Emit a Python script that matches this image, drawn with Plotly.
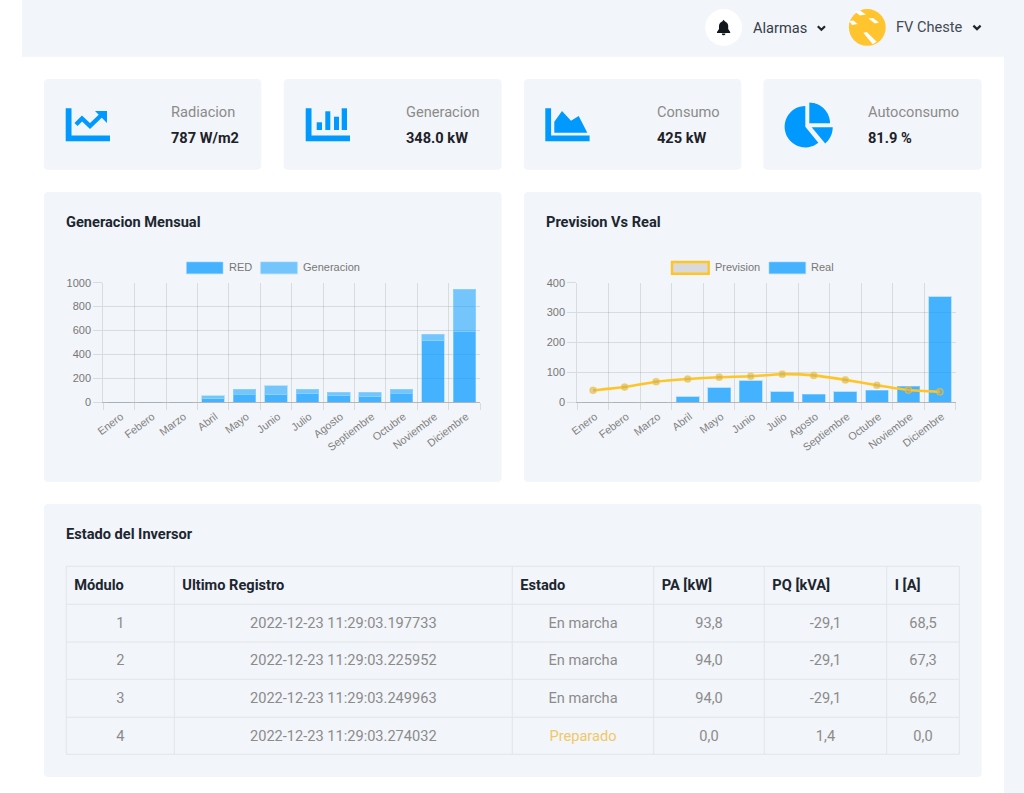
import numpy as np
import plotly.graph_objects as go

W, H = 1024, 793
BG = "#f2f5f9"
BLUE = "#0099ff"

meses = ["Enero", "Febero", "Marzo", "Abril", "Mayo", "Junio", "Julio", "Agosto",
         "Septiembre", "Octubre", "Noviembre", "Diciembre"]

# Generacion Mensual
red_vals = [0, 0, 0, 34, 63, 67, 76, 59, 51, 71, 518, 591]
gen_vals = [0, 0, 0, 19, 48, 72, 35, 27, 35, 40, 53, 353]

# Prevision Vs Real
prevision_vals = [40, 51, 69, 78, 84, 87, 94, 90, 75, 57, 41, 35]
real_vals = [0, 0, 0, 19, 48, 72, 35, 27, 35, 40, 53, 353]

# Tabla
col_modulo = ["1", "2", "3", "4"]
col_registro = ["2022-12-23 11:29:03.197733", "2022-12-23 11:29:03.225952",
                "2022-12-23 11:29:03.249963", "2022-12-23 11:29:03.274032"]
col_estado = ["En marcha", "En marcha", "En marcha", "Preparado"]
col_pa = ["93,8", "94,0", "94,0", "0,0"]
col_pq = ["-29,1", "-29,1", "-29,1", "1,4"]
col_i = ["68,5", "67,3", "66,2", "0,0"]
cabecera = ["Módulo", "Ultimo Registro", "Estado", "PA [kW]", "PQ [kVA]", "I [A]"]


def px(x):
    return x / W


def py(y):
    return 1 - y / H


def poly(points, close=True):
    s = "M " + " L ".join(f"{px(x):.5f} {py(y):.5f}" for x, y in points)
    return s + (" Z" if close else "")


def round_rect(x0, y0, x1, y1, r=4):
    pts = []
    for cx, cy, a0 in [(x1 - r, y0 + r, -90), (x1 - r, y1 - r, 0), (x0 + r, y1 - r, 90), (x0 + r, y0 + r, 180)]:
        for a in np.radians(np.linspace(a0, a0 + 90, 6)):
            pts.append((cx + r * np.cos(a), cy + r * np.sin(a)))
    return poly(pts)


def arc(cx, cy, r, a0, a1, n=30):
    return [(cx + r * np.cos(a), cy + r * np.sin(a)) for a in np.radians(np.linspace(a0, a1, n))]


shapes = []


def add_fill(path, color=BLUE):
    shapes.append(dict(type="path", xref="paper", yref="paper", path=path, fillcolor=color,
                       line=dict(width=0), layer="below"))


def add_stroke(points, color, width):
    shapes.append(dict(type="path", xref="paper", yref="paper", path=poly(points, close=False),
                       line=dict(color=color, width=width), layer="below"))


def add_circle(cx, cy, r, color):
    shapes.append(dict(type="circle", xref="paper", yref="paper", x0=px(cx - r), x1=px(cx + r),
                       y0=py(cy + r), y1=py(cy - r), fillcolor=color, line=dict(width=0), layer="below"))


annotations = []
TXT = 14.6


def add_text(x, y, text, size=TXT, color="#8b8b8b", anchor="left", bold=False):
    annotations.append(dict(x=px(x), y=py(y), xref="paper", yref="paper", showarrow=False,
                            text=f"<b>{text}</b>" if bold else text, xanchor=anchor, yanchor="middle",
                            borderpad=0, font=dict(family="Roboto", size=size, color=color)))


# fondo: barra superior y franja derecha
add_fill(poly([(22, 0), (W, 0), (W, 56.7), (22, 56.7)]), BG)
add_fill(poly([(1004, 56), (W, 56), (W, H), (1004, H)]), BG)

# tarjetas
for x0, x1 in [(44, 261.3), (283.7, 501.7), (524, 741.3), (763.3, 981.7)]:
    add_fill(round_rect(x0, 79, x1, 169.7), BG)
add_fill(round_rect(44, 192, 501.7, 482), BG)
add_fill(round_rect(524, 192, 981.7, 482), BG)
add_fill(round_rect(44, 504, 981.7, 777), BG)


def l_axis(x):
    add_fill(poly([(x, 108.3), (x + 5.8, 108.3), (x + 5.8, 135.6), (x + 44.3, 135.6), (x + 44.3, 141.3), (x, 141.3)]))


# iconos
l_axis(65.7)
add_stroke([(76, 124.5), (82, 118.5), (90, 126), (102, 114.5)], BLUE, 4.4)
add_fill(poly([(95, 111), (107, 111), (107, 123)]))
l_axis(305.7)
for x0, x1, y0 in [(316.7, 322, 122.3), (325.3, 330.3, 111.3), (334, 339, 116.7), (341.7, 347, 108.3)]:
    add_fill(poly([(x0, y0), (x1, y0), (x1, 130), (x0, 130)]))
l_axis(545.3)
add_fill(poly([(554.3, 132.7), (554.3, 121.7), (562, 111), (571, 120.7), (578.7, 116), (587.3, 132.7)]))
add_fill(poly(arc(805.3, 126.7, 20.7, -90, -309) + [(805.3, 126.7)]))
add_fill(poly([(809.3, 123.3)] + arc(809.3, 123.3, 20.7, -90, 0)))
add_fill(poly([(811.7, 127.3)] + arc(811.7, 127.3, 21, 0, 50)))

# cabecera
add_circle(723.7, 27.5, 18.5, "#ffffff")
add_fill(poly([(723.6, 19.8), (725, 21.6)] + arc(723.6, 26, 4.6, -60, 0, 8) +
              [(728.2, 29), (730.2, 32), (730.2, 33.1), (717, 33.1), (717, 32), (719, 29)] +
              arc(723.6, 26, 4.6, 180, 240, 8) + [(722.2, 21.6)]), "#11151c")
add_fill(poly(arc(723.6, 33.6, 1.8, 0, 180, 8)), "#11151c")
add_stroke([(817.8, 26.3), (821.4, 29.8), (825, 26.3)], "#1f2630", 2.2)
add_stroke([(973.4, 25.6), (977, 29.1), (980.6, 25.6)], "#1f2630", 2.2)
add_text(751.8, 28, "Alarmas", color="#343c47")
add_text(894.7, 27, "FV Cheste", color="#434b55")

add_circle(867.3, 27.4, 18.4, "#ffc42e")
for streak in [[(863.3, 32.7), (866.7, 32), (876.7, 41.7), (872.7, 44.3)],
               [(855, 11.7), (860, 10.5), (866, 14.5), (860, 15.5)],
               [(868.5, 18.5), (873, 18), (879, 22.5), (875, 23.5)],
               [(849.5, 21), (853.5, 20.5), (857.5, 24), (852, 25)]]:
    add_fill(poly(streak), "#ffffff")

# textos de las tarjetas
for x, label, value in [(170, "Radiacion", "787 W/m2"), (404.5, "Generacion", "348.0 kW"),
                        (655.5, "Consumo", "425 kW"), (866.5, "Autoconsumo", "81.9 %")]:
    add_text(x, 111.7, label)
    add_text(x, 137.8, value, color="#1d2229", bold=True)
add_text(64.7, 222, "Generacion Mensual", color="#1c2630", bold=True)
add_text(544.7, 222, "Prevision Vs Real", color="#1c2630", bold=True)
add_text(64.7, 534, "Estado del Inversor", color="#1c2630", bold=True)


def legend_box(x0, x1, color, line_color, lw=1):
    shapes.append(dict(type="rect", xref="paper", yref="paper", x0=px(x0), x1=px(x1), y0=py(273.8), y1=py(262),
                       fillcolor=color, line=dict(color=line_color, width=lw), layer="below"))


def legend_text(x, text):
    annotations.append(dict(x=px(x), y=py(267), xref="paper", yref="paper", showarrow=False, text=text,
                            xanchor="left", yanchor="middle", borderpad=0,
                            font=dict(family="Liberation Sans", size=11, color="#777777")))


RED_COLOR = "rgba(0,153,255,0.72)"
GEN_COLOR = "rgba(0,153,255,0.52)"
EDGE = "rgba(150,215,255,0.6)"
legend_box(186.5, 223, RED_COLOR, EDGE)
legend_text(227.7, "RED")
legend_box(260.7, 297.3, GEN_COLOR, EDGE)
legend_text(302.3, "Generacion")
legend_box(672, 708.7, "#d9d9d9", "#ffc527", 2.4)
legend_text(713.7, "Prevision")
legend_box(769, 805.7, RED_COLOR, EDGE)
legend_text(810.3, "Real")

# lineas de la tabla
TABLE_LINE = "#e1e5ea"
col_edges = [66.3, 174.3, 512.3, 653.7, 764.3, 886.7, 959.3]
row_edges = [566.3, 604.3, 642, 679.3, 717.3, 754.3]
for x in col_edges:
    add_stroke([(x, row_edges[0]), (x, row_edges[-1])], TABLE_LINE, 1)
for y in row_edges:
    add_stroke([(col_edges[0], y), (col_edges[-1], y)], TABLE_LINE, 1)

fig = go.Figure()

fig.add_trace(go.Bar(x=meses, y=red_vals, name="RED", marker=dict(color=RED_COLOR, line=dict(color=EDGE, width=1)),
                     xaxis="x", yaxis="y"))
fig.add_trace(go.Bar(x=meses, y=gen_vals, name="Generacion", marker=dict(color=GEN_COLOR, line=dict(color=EDGE, width=1)),
                     xaxis="x", yaxis="y"))
fig.add_trace(go.Bar(x=meses, y=real_vals, name="Real", marker=dict(color=RED_COLOR, line=dict(color=EDGE, width=1)),
                     xaxis="x2", yaxis="y2"))
fig.add_trace(go.Scatter(x=meses, y=prevision_vals, name="Prevision", mode="lines+markers",
                         line=dict(color="#ffc527", width=2.6, shape="spline", smoothing=0.5),
                         marker=dict(size=6.5, color="rgba(190,170,100,0.5)", line=dict(color="rgba(255,197,39,0.6)", width=1.2)),
                         cliponaxis=False, xaxis="x2", yaxis="y2"))

gris = "#8b8b8b"
NOLINE = dict(color="rgba(0,0,0,0)", width=0)
fig.add_trace(go.Table(
    # bajado unos px: el texto de una celda de plotly va pegado arriba
    domain=dict(x=[px(66.3), px(959.3)], y=[py(760), py(568.3)]),
    columnwidth=[108, 338, 141.4, 110.6, 122.4, 72.6],
    header=dict(values=[f"<b>{c}</b>" for c in cabecera], align="left", height=40.5,
                fill_color="rgba(0,0,0,0)", line=NOLINE,
                font=dict(family="Roboto", size=TXT, color="#1c2630")),
    cells=dict(values=[col_modulo, col_registro, col_estado, col_pa, col_pq, col_i], align="center", height=37.7,
               fill_color="rgba(0,0,0,0)", line=NOLINE,
               font=dict(family="Roboto", size=TXT,
                         color=[[gris] * 4, [gris] * 4, [gris, gris, gris, "#f0c868"], [gris] * 4, [gris] * 4, [gris] * 4])),
))

GRID = "rgba(0,0,0,0.1)"
AX_FONT = dict(family="Liberation Sans", size=11, color="#777777")
XT_FONT = dict(family="Liberation Sans", size=10.8, color="#808080")
x_common = dict(type="category", categoryorder="array", categoryarray=meses, tickson="boundaries", range=[-0.5, 11.5],
                ticks="outside", ticklen=7, tickcolor=GRID, gridcolor=GRID, showgrid=True, automargin=False,
                showline=True, linecolor="rgba(0,0,0,0.25)", tickangle=-37, tickfont=XT_FONT, zeroline=False,
                ticklabelstandoff=3, ticklabelshift=2)
y_common = dict(ticks="outside", ticklen=9, tickcolor=GRID, gridcolor=GRID, showgrid=True, automargin=False,
                showline=True, linecolor=GRID, tickfont=AX_FONT, zeroline=False, tick0=0)

fig.update_layout(
    width=W, height=H, margin=dict(l=0, r=0, t=0, b=0), autosize=False,
    paper_bgcolor="#ffffff", plot_bgcolor="rgba(0,0,0,0)",
    barmode="stack", bargap=0.28, showlegend=False, hovermode=False,
    shapes=shapes, annotations=annotations,
    xaxis=dict(domain=[px(103.3), px(480)], anchor="y", **x_common),
    yaxis=dict(domain=[py(402.3), py(282.7)], anchor="x", range=[0, 1000], dtick=200, **y_common),
    xaxis2=dict(domain=[px(577.3), px(955.7)], anchor="y2", **x_common),
    yaxis2=dict(domain=[py(402.3), py(282.7)], anchor="x2", range=[0, 400], dtick=100, **y_common),
)

fig.write_html("out.html", config=dict(displayModeBar=False),
               post_script="document.body.style.margin='0';document.body.style.overflow='hidden';")
